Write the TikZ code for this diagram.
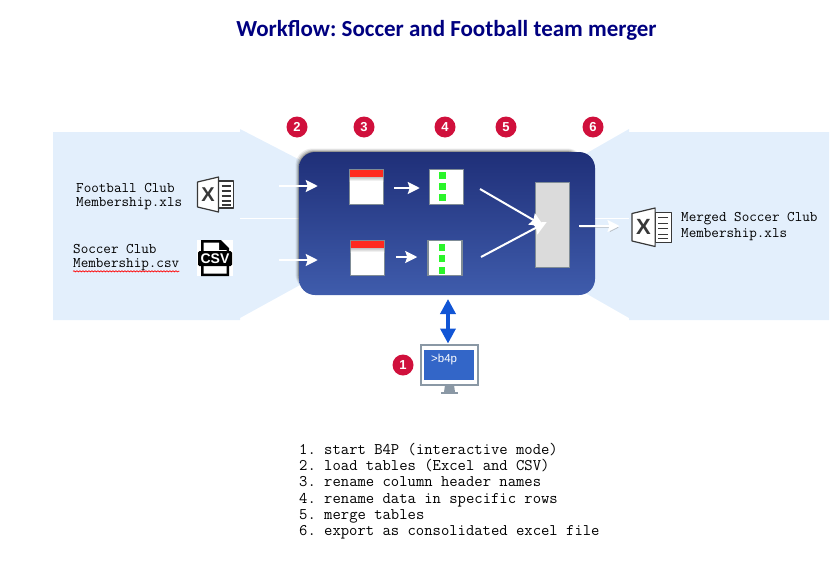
\documentclass[tikz,border=0pt]{standalone}
\usepackage{fontspec}
\setmainfont{Liberation Sans}
\newfontfamily\titlefont{Carlito}
\usetikzlibrary{arrows.meta,decorations.pathmorphing}
\definecolor{paleblue}{HTML}{E3EFFC}
\definecolor{boxtop}{HTML}{1F2F78}
\definecolor{boxbottom}{HTML}{3F5CAC}
\definecolor{framegray}{HTML}{7F8C96}
\definecolor{monitorgray}{HTML}{8A98A5}
\definecolor{screenblue}{HTML}{3366C8}
\definecolor{busblue}{HTML}{1155D5}
\definecolor{badgered}{HTML}{D0103C}
\definecolor{headerred}{HTML}{FF2A1F}
\definecolor{dotgreen}{HTML}{2AF52A}
\newcommand{\monosize}{\ttfamily\fontsize{14.7}{16}\selectfont}
\tikzset{
  xlsicon/.pic={
    \draw[draw=black!78, fill=white, line width=1.2pt, line join=round] (21,4) rectangle (36,31);
    \foreach \y in {9,14,19,24,28} {
      \draw[black!78, line width=1.1pt] (24,\y) -- (33,\y);
    }
    \draw[draw=black!78, fill=white, line width=1.2pt, line join=round] (0,5) -- (21,0) -- (21,35) -- (0,30) -- cycle;
    \node[font=\bfseries\fontsize{#1}{#1}\selectfont, text=black!78, inner sep=0pt] (mark) at (10.5,17.5) {X};
  }
}
\begin{document}
\frenchspacing
\begin{tikzpicture}[x=1pt, y=-1pt, >=Stealth, node distance=80pt]
      \tikzstyle{badge}=[circle, fill=badgered, text=white, inner sep=0pt, minimum size=21pt, font=\bfseries\fontsize{13}{13}\selectfont]
      \tikzstyle{tablebox}=[draw=framegray, fill=white, line width=1.5pt, inner sep=0pt, minimum width=34pt, minimum height=35pt]
      \tikzstyle{label}=[anchor=west, align=left, inner sep=0pt, font=\monosize]
      \tikzstyle{flow}=[white, line width=2pt, arrows={-{Stealth[length=12pt,width=12pt,inset=2pt]}}]
      \tikzstyle{bigflow}=[white, line width=2pt, arrows={-{Stealth[length=14pt,width=13pt,inset=2pt]}}]
      \tikzstyle{flowshadow}=[preaction={draw=black!45, opacity=.35, transform canvas={shift={(1pt,-1.5pt)}}}]
      \useasboundingbox (0,0) rectangle (834,570);
      % input and output areas
      \fill[paleblue] (53,132) -- (240,132) -- (240,129) -- (300,160) -- (300,285) -- (240,318) -- (240,320) -- (53,320) -- cycle;
      \fill[paleblue] (829,132) -- (629,132) -- (629,129) -- (580,157) -- (580,290) -- (629,318) -- (629,320) -- (829,320) -- cycle;
      \draw[white] (240,218) -- (300,218);
      \draw[white] (595,218) -- (629,218);
      % main box
      \foreach \g/\o in {3.5/.08,2.5/.12,1.5/.16,.7/.22} {
        \fill[black, opacity=\o, rounded corners=17pt] (299-\g,152-\g) rectangle (584,291);
      }
      \shade[top color=boxtop, bottom color=boxbottom, rounded corners=16pt] (299,152) rectangle (595,295);
      \node[font=\titlefont\bfseries\fontsize{23}{25}\selectfont, text=black!50!blue, inner sep=0pt] (title) at (446.5,30) {Workflow: Soccer and Football team merger};
      % step numbers
      \node[badge] (b2) at (297,127) {2};
      \node[badge] (b3) at (364,127) {3};
      \node[badge] (b4) at (445,127) {4};
      \node[badge] (b5) at (506,127) {5};
      \node[badge] (b6) at (593,127) {6};
      \node[badge] (b1) at (403,365) {1};
      % tables
      \node[tablebox] (ta) at (366.5,187) {};
      \node[tablebox] (tb) at (367.5,258) {};
      \node[tablebox] (da) [right of=ta] {};
      \node[tablebox] (db) [right of=tb, node distance=77.5pt] {};
      \node[draw=framegray, fill=black!14, line width=1.5pt, inner sep=0pt, minimum width=34pt, minimum height=85pt] (mg) at (552.5,225) {};
      \shade[top color=black!30, bottom color=white] (349.8,176) rectangle (383.2,181);
      \shade[top color=black!30, bottom color=white] (350.8,247) rectangle (384.2,252);
      \fill[headerred] (349.8,169.8) rectangle (383.2,176.5);
      \fill[headerred] (350.8,240.8) rectangle (384.2,247.5);
      \foreach \y in {172,183,194} {
        \fill[dotgreen] (439,\y) rectangle ++(7,7);
      }
      \foreach \y in {244,255,267} {
        \fill[dotgreen] (439,\y) rectangle ++(6,7);
      }
      % files
      \pic at (197.5,177) {xlsicon=20};
      \pic[scale=1.1] at (632,208) {xlsicon=22};
      \fill[white] (197,240) rectangle (233,276);
      \fill[black] (201,240) -- (221,240) -- (229,248) -- (229,276) -- (201,276) -- cycle;
      \fill[white] (203.5,242.5) -- (219,242.5) -- (219,250) -- (226.5,250) -- (226.5,273.5) -- (203.5,273.5) -- cycle;
      \fill[black, rounded corners=1.5pt] (198,251) rectangle (232,266);
      \node[font=\bfseries\fontsize{14}{14}\selectfont, text=white, inner sep=0pt] (csvmark) at (215,258.5) {CSV};
      \node[label] (fa) at (76,188) {Football Club};
      \node[label] (fb) at (76,204) {Membership.xls};
      \node[label] (sa) at (73,249) {Soccer Club};
      \node[label] (sb) at (73,265) {Membership.csv};
      \node[label] (oa) at (681,219) {Merged Soccer Club};
      \node[label] (ob) at (681,235) {Membership.xls};
      \draw[red, line width=.7pt, decorate, decoration={snake, amplitude=.6pt, segment length=3pt}] (sb.south west) -- (sb.south east);
      % terminal
      \node[draw=monitorgray, fill=white, line width=2pt, inner sep=0pt, minimum width=57pt, minimum height=40pt] (mon) at (449.5,364.5) {};
      \node[fill=screenblue, inner sep=0pt, minimum width=50pt, minimum height=30pt] (scr) at (449,365) {};
      \node[font=\fontsize{11.5}{11.5}\selectfont, text=white, inner sep=0pt, anchor=west] (prompt) at (431,360) {>b4p};
      \fill[monitorgray] (445,385) -- (454,385) -- (455,392) -- (444,392) -- cycle;
      \draw[monitorgray, line width=2.4pt] (441,392.8) -- (458,392.8);
      \coordinate (busb) at (448,299);
      \draw[busblue, line width=3.5pt, arrows={{Stealth[length=15pt,width=15pt,inset=0pt]}-{Stealth[length=15pt,width=15pt,inset=0pt]}}] (busb) -- (mon.north -| busb);
      % connectors
      \coordinate (ina) at (279,186);
      \coordinate (inb) at (279,260);
      \coordinate (mga) at (480,189);
      \coordinate (mgb) at (481,257);
      \coordinate (outa) at (579,226);
      \coordinate (outb) at (619.5,226);
      \draw[flow, shorten >=31pt] (ina) -- (ta.west |- ina);
      \draw[flow, shorten >=32pt] (inb) -- (tb.west |- inb);
      \draw[flow, shorten <=10pt, shorten >=9pt] (ta.east |- 0,188) -- (da.west |- 0,188);
      \draw[flow, shorten <=11pt, shorten >=10pt] (tb.east |- 0,257) -- (db.west |- 0,257);
      \draw[bigflow] (mga) -- ([xshift=9pt,yshift=-1pt]mg.west);
      \draw[bigflow] (mgb) -- ([xshift=12pt,yshift=3pt]mg.west);
      \draw[flow, flowshadow] (outa) -- (outb);
      % steps
      \node[anchor=north west, align=left, inner sep=0pt, font=\ttfamily\fontsize{16.2}{16.25}\selectfont] (steps) at (299,443) {1. start B4P (interactive mode)\\
        2. load tables (Excel and CSV)\\
        3. rename column header names\\
        4. rename data in specific rows\\
        5. merge tables\\
        6. export as consolidated excel file};
    \end{tikzpicture}
\end{document}
